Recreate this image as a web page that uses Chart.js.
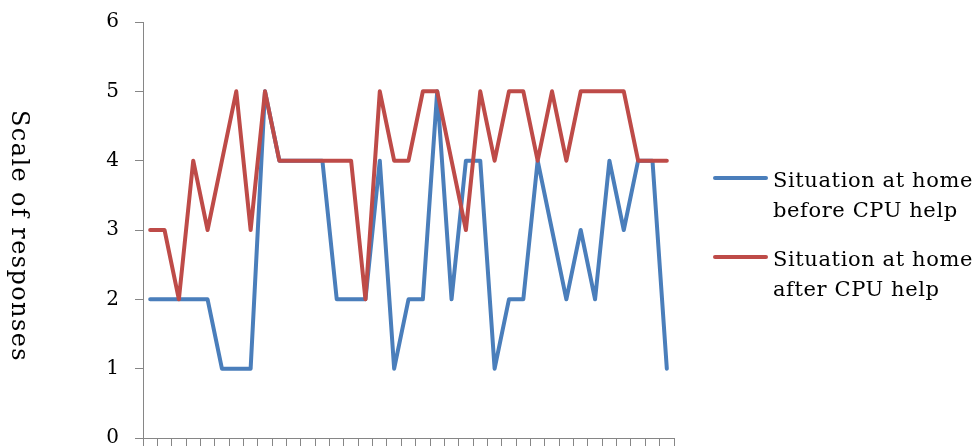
<!DOCTYPE html>
<html>
<head>
<meta charset="utf-8">
<script src="https://cdn.jsdelivr.net/npm/chart.js@4/dist/chart.umd.min.js"></script>
<style>
  html, body { margin: 0; padding: 0; background: #fff; }
  #wrap { position: relative; width: 976px; height: 448px; overflow: hidden; }
  #chart { position: absolute; left: 0; top: 0; }
  .serif { font-family: "DejaVu Serif", serif; color: #000; }
  #yTitle {
    position: absolute; left: 32px; top: 110px;
    font-size: 24px; line-height: 24px; letter-spacing: 1.4px;
    white-space: nowrap; transform-origin: 0 0; transform: rotate(90deg);
  }
  .legend-line { position: absolute; left: 713px; width: 55px; height: 4px; border-radius: 2px; }
  .legend-text {
    position: absolute; left: 773px; font-size: 21px; line-height: 30px;
    letter-spacing: 0.6px; white-space: nowrap;
  }
</style>
</head>
<body>
<div id="wrap">
  <canvas id="chart" width="976" height="448"></canvas>
  <div id="yTitle" class="serif"></div>
  <div id="legend"></div>
</div>
<script>
// Respondents along the x axis (tick marks only, no labels shown)
const respondents = ['1','2','3','4','5','6','7','8','9','10','11','12','13','14','15','16','17','18','19',
  '20','21','22','23','24','25','26','27','28','29','30','31','32','33','34','35','36','37'];

// Responses on a 0-6 scale
const beforeHelp = [2,2,2,2,2,1,1,1,5,4, 4,4,4,2,2,2,4,1,2,2, 5,2,4,4,1,2,2,4,3,2, 3,2,4,3,4,4,1];
const afterHelp  = [3,3,2,4,3,4,5,3,5,4, 4,4,4,4,4,2,5,4,4,5, 5,4,3,5,4,5,5,4,5,4, 5,5,5,5,4,4,4];

const seriesNames = [
  ['Situation at home', 'before CPU help'],
  ['Situation at home', 'after CPU help']
];
const yAxisTitle = 'Scale of responses';
const yTicks = [0, 1, 2, 3, 4, 5, 6];

const BLUE = '#4A7EBB';
const RED = '#BE4B48';
const AXIS = '#868686';
const FONT = '"DejaVu Serif", serif';

const chart = new Chart(document.getElementById('chart'), {
  type: 'line',
  data: {
    labels: respondents,
    datasets: [
      { label: seriesNames[0].join(' '), data: beforeHelp, borderColor: BLUE, backgroundColor: BLUE, order: 1 },
      { label: seriesNames[1].join(' '), data: afterHelp, borderColor: RED, backgroundColor: RED, order: 0 }
    ]
  },
  options: {
    responsive: false,
    devicePixelRatio: 1,
    animation: false,
    events: [],
    layout: { padding: { top: 22, right: 302, left: 0, bottom: 0 } },
    elements: {
      line: { borderWidth: 4, tension: 0, borderJoinStyle: 'round', borderCapStyle: 'round', fill: false },
      point: { radius: 0, hoverRadius: 0 }
    },
    plugins: { legend: { display: false }, tooltip: { enabled: false } },
    scales: {
      x: {
        type: 'category',
        offset: true,
        grid: { offset: true, drawOnChartArea: false, drawTicks: true, tickLength: 8, color: AXIS, lineWidth: 1 },
        border: { display: true, color: AXIS, width: 1 },
        ticks: { display: false },
        afterFit: s => { s.height = 10; }
      },
      y: {
        min: 0, max: 6,
        afterBuildTicks: s => { s.ticks = yTicks.map(v => ({ value: v })); },
        grid: { drawOnChartArea: false, drawTicks: true, tickLength: 8, color: AXIS, lineWidth: 1 },
        border: { display: true, color: AXIS, width: 1 },
        ticks: { padding: 16, color: '#000', font: { family: FONT, size: 20 } },
        afterFit: s => { s.width = 143; s.paddingTop = 0; s.paddingBottom = 0; }
      }
    }
  }
});

// Axis title (reads top to bottom)
document.getElementById('yTitle').textContent = yAxisTitle;

// Legend built from the datasets
const legend = document.getElementById('legend');
const legendTops = [178, 257];
chart.data.datasets.forEach((ds, i) => {
  const line = document.createElement('div');
  line.className = 'legend-line';
  line.style.background = ds.borderColor;
  line.style.top = (legendTops[i] - 2) + 'px';
  legend.appendChild(line);
  const txt = document.createElement('div');
  txt.className = 'legend-text serif';
  txt.style.top = (legendTops[i] - 13.5) + 'px';
  seriesNames[i].forEach((t, k) => {
    if (k) txt.appendChild(document.createElement('br'));
    txt.appendChild(document.createTextNode(t));
  });
  legend.appendChild(txt);
});
</script>
</body>
</html>
